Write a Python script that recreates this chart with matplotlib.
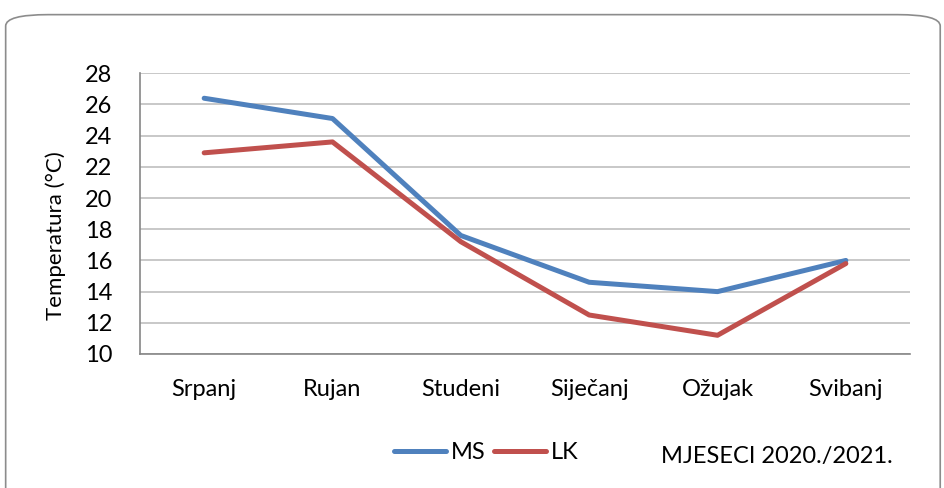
import matplotlib.pyplot as plt
from matplotlib.patches import FancyBboxPatch

months = ['Srpanj', 'Rujan', 'Studeni', 'Siječanj', 'Ožujak', 'Svibanj']
ms = [26.4, 25.1, 17.6, 14.6, 14.0, 16.0]
lk = [22.9, 23.6, 17.2, 12.5, 11.2, 15.8]
yticks = [10, 12, 14, 16, 18, 20, 22, 24, 26, 28]

plt.rcParams['font.family'] = ['Lato', 'DejaVu Sans']

fig = plt.figure(figsize=(9.44, 4.88), dpi=100)

# rounded outer border
box = FancyBboxPatch((0.006, -0.1), 0.99, 1.07, boxstyle='round,pad=0,rounding_size=0.045',
                     transform=fig.transFigure, fill=False, edgecolor='#8c8c8c', linewidth=1.2,
                     mutation_aspect=488 / 944)
fig.patches.append(box)

ax = fig.add_axes([0.1483, 0.2746, 0.8157, 0.5752])
x = list(range(len(months)))
ax.plot(x, ms, color='#4F81BD', linewidth=3.6, solid_capstyle='round', label='MS')
ax.plot(x, lk, color='#C0504D', linewidth=3.6, solid_capstyle='round', label='LK')

ax.set_xlim(-0.5, len(months) - 0.5)
ax.set_ylim(10, 28)
ax.set_yticks(yticks)
ax.set_xticks(x)
ax.set_xticklabels(months)
ax.grid(axis='y', color='#BFBFBF', linewidth=1.2)
ax.set_axisbelow(True)
ax.tick_params(axis='both', length=0, labelsize=17)
ax.tick_params(axis='x', pad=18)
ax.tick_params(axis='y', pad=20)
for s in ['top', 'right']:
    ax.spines[s].set_visible(False)
for s in ['left', 'bottom']:
    ax.spines[s].set_color('#868686')
    ax.spines[s].set_linewidth(1.2)
ax.set_ylabel('Temperatura (°C)', fontsize=16, va='center')
ax.yaxis.set_label_coords(-0.11, 0.42)

fig.legend(loc='center', bbox_to_anchor=(0.515, 0.072), ncol=2, frameon=False, fontsize=17,
           handlelength=2.2, handletextpad=0.2, columnspacing=0.35)
fig.text(0.70, 0.052, 'MJESECI 2020./2021.', fontsize=17)

fig.savefig('out.png', dpi=100)
